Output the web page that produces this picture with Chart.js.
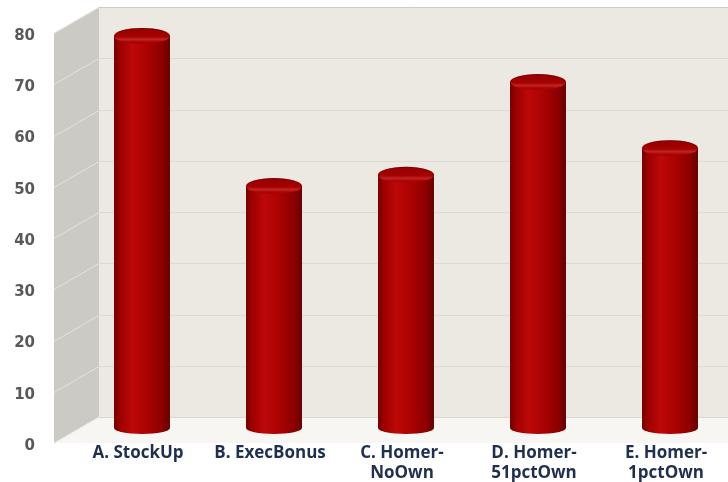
<!DOCTYPE html>
<html>
<head>
<meta charset="utf-8">
<script src="https://cdn.jsdelivr.net/npm/chart.js@4"></script>
<style>
  html,body{margin:0;padding:0;background:#fff;}
  #wrap{width:728px;height:482px;}
</style>
</head>
<body>
<div id="wrap"><canvas id="chart" width="728" height="482"></canvas></div>
<script>
var categories = [['A. StockUp'], ['B. ExecBonus'], ['C. Homer-', 'NoOwn'], ['D. Homer-', '51pctOwn'], ['E. Homer-', '1pctOwn']];
var values = [76.5, 47.2, 49.4, 67.5, 54.6];
var yMin = 0, yMax = 80, yStep = 10;

(function(){
  // oblique depth of the box, and where the cylinders stand inside it
  var DX = 45, DY = -26;
  var BX = 22, BY = -15;

  function box(chart){
    var ctx = chart.ctx, a = chart.chartArea, y = chart.scales.y;
    var W = chart.width;
    var fTop = y.getPixelForValue(yMax), fBot = y.getPixelForValue(yMin);
    ctx.save();
    // back wall
    ctx.fillStyle = '#ece9e3';
    ctx.fillRect(a.left + DX, fTop + DY, W - a.left - DX, fBot - fTop);
    // side wall
    ctx.fillStyle = '#cbcac5';
    ctx.beginPath();
    ctx.moveTo(a.left, fTop); ctx.lineTo(a.left + DX, fTop + DY);
    ctx.lineTo(a.left + DX, fBot + DY); ctx.lineTo(a.left, fBot);
    ctx.closePath(); ctx.fill();
    // floor
    ctx.fillStyle = '#f7f6f3';
    ctx.beginPath();
    ctx.moveTo(a.left, fBot); ctx.lineTo(a.left + DX, fBot + DY);
    ctx.lineTo(W, fBot + DY); ctx.lineTo(W, fBot);
    ctx.closePath(); ctx.fill();
    // grid lines
    ctx.lineWidth = 1;
    for (var v = yMin; v <= yMax; v += yStep){
      var py = Math.round(y.getPixelForValue(v)) + 0.5;
      ctx.strokeStyle = v === yMax ? '#cfccc6' : '#dcd9d2';
      ctx.beginPath(); ctx.moveTo(a.left + DX, py + DY); ctx.lineTo(W, py + DY); ctx.stroke();
      ctx.strokeStyle = 'rgba(235,234,230,0.75)';
      ctx.beginPath(); ctx.moveTo(a.left, py); ctx.lineTo(a.left + DX, py + DY); ctx.stroke();
    }
    ctx.restore();
  }

  function cylinder(ctx, cx, top, base, w){
    var r = w / 2, ry = 8;
    var g = ctx.createLinearGradient(cx - r, 0, cx + r, 0);
    g.addColorStop(0, '#740000');
    g.addColorStop(0.1, '#9c0000');
    g.addColorStop(0.33, '#bd0808');
    g.addColorStop(0.6, '#aa0202');
    g.addColorStop(0.86, '#8c0000');
    g.addColorStop(1, '#660000');
    ctx.save();
    ctx.fillStyle = g;
    ctx.beginPath();
    ctx.moveTo(cx - r, top);
    ctx.lineTo(cx - r, base);
    ctx.ellipse(cx, base, r, 6, 0, Math.PI, 0, true);
    ctx.lineTo(cx + r, top);
    ctx.closePath();
    ctx.fill();
    // cap
    var cg = ctx.createLinearGradient(0, top - ry, 0, top + ry);
    cg.addColorStop(0, '#960000');
    cg.addColorStop(0.55, '#a50202');
    cg.addColorStop(0.72, '#c02424');
    cg.addColorStop(0.86, '#ad0606');
    cg.addColorStop(1, '#a20000');
    ctx.fillStyle = cg;
    ctx.beginPath();
    ctx.ellipse(cx, top, r, ry, 0, 0, Math.PI * 2);
    ctx.fill();
    ctx.strokeStyle = 'rgba(100,0,0,0.45)';
    ctx.lineWidth = 1;
    ctx.beginPath();
    ctx.ellipse(cx, top, r - 0.5, ry - 0.5, 0, Math.PI, 0);
    ctx.stroke();
    ctx.restore();
  }

  var cylinders = {
    id: 'cylinders',
    beforeDatasetsDraw: function(chart){ box(chart); },
    afterDatasetsDraw: function(chart){
      var meta = chart.getDatasetMeta(0);
      meta.data.forEach(function(bar){
        cylinder(chart.ctx, bar.x + BX, bar.y + BY, bar.base + BY, bar.width);
      });
    }
  };

  document.addEventListener('DOMContentLoaded', function(){
    var c = document.getElementById('chart');
    new Chart(c.getContext('2d'), {
      type: 'bar',
      data: { labels: categories, datasets: [{ data: values, backgroundColor: 'rgba(0,0,0,0)', borderWidth: 0, barPercentage: 0.424, categoryPercentage: 1 }] },
      options: {
        responsive: false, animation: false, devicePixelRatio: 1,
        layout: { padding: { top: 33, right: 14, left: 0, bottom: 0 } },
        plugins: { legend: { display: false }, tooltip: { enabled: false } },
        scales: {
          x: {
            grid: { display: false, drawTicks: false }, border: { display: false },
            afterFit: function(s){ s.height = 39; },
            ticks: { color: '#1f2f4f', labelOffset: 18, padding: 0, maxRotation: 0, autoSkip: false,
              font: { family: '"Open Sans"', size: 17, weight: 'bold', lineHeight: 1.2 } }
          },
          y: {
            min: yMin, max: yMax,
            grid: { display: false, drawTicks: false }, border: { display: false },
            afterFit: function(s){ s.width = 54; },
            ticks: { stepSize: yStep, color: '#595959', padding: 19, labelOffset: 3,
              font: { family: '"DejaVu Sans"', size: 15, weight: 'bold' } }
          }
        }
      },
      plugins: [cylinders]
    });
  });
})();
</script>
</body>
</html>
